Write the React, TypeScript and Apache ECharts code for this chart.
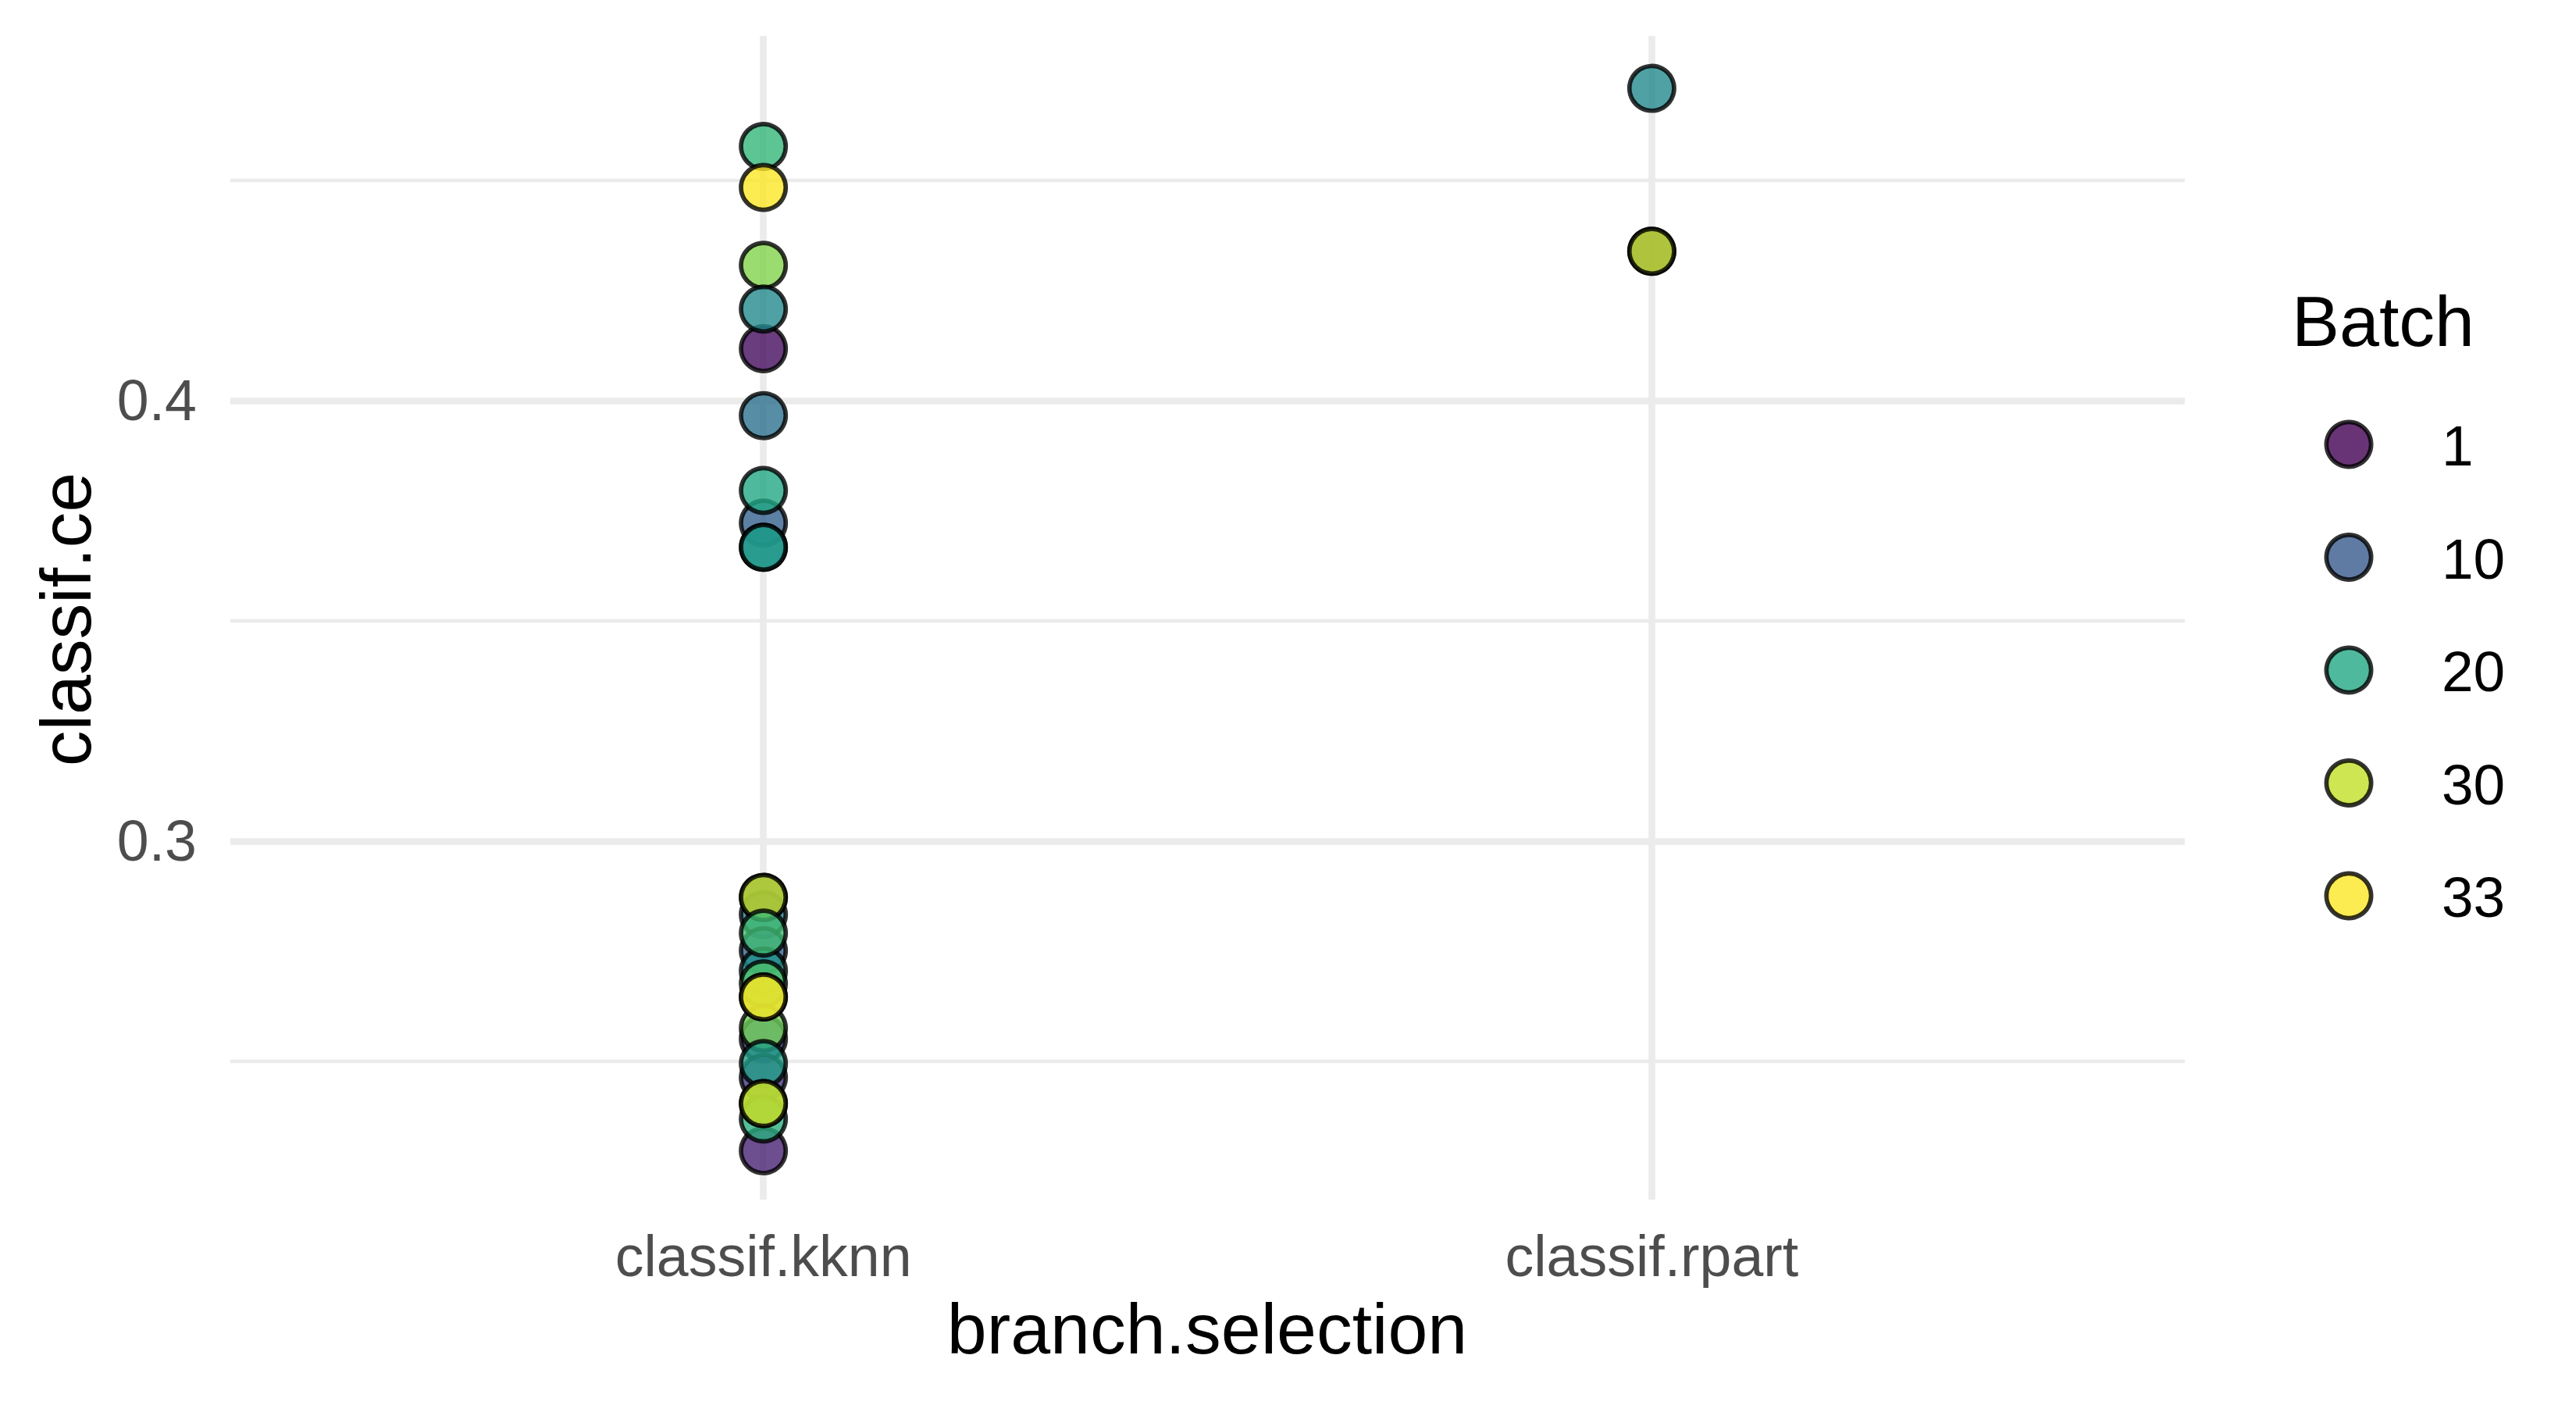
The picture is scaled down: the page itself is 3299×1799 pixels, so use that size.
import React, { useEffect, useRef } from "react";
import * as echarts from "echarts";

// ---- data ----
const categories = ["classif.kknn", "classif.rpart"];
const yMajorTicks = [0.3, 0.4];
const yMinorTicks = [0.25, 0.35, 0.45];
const legendBreaks = [1, 10, 20, 30, 33];
const batchMin = 1;
const batchMax = 33;

// classif.kknn points (drawing order: later on top)
const kknnCe = [
  0.2833, 0.2751, 0.2705, 0.2676, 0.2551, 0.2463, 0.2297, 0.2369, 0.2872, 0.2872,
  0.2791, 0.2575, 0.2646, 0.2646, 0.2495, 0.2404, 0.2404,
  0.4577, 0.4484, 0.4118, 0.4307, 0.4208, 0.3966, 0.3722, 0.3796, 0.3667, 0.3667,
];
const kknnBatch = [
  14, 11, 17, 24, 8, 6, 4, 21, 8, 30,
  23, 26, 25, 33, 19, 20, 31,
  22, 33, 2, 27, 16, 13, 11, 20, 17, 18,
];
// classif.rpart points
const rpartCe = [0.4339, 0.4339, 0.4709];
const rpartBatch = [5, 30, 16];

// viridis colour scale stops
const VIRIDIS = [
  "#440154", "#482475", "#414487", "#355F8D", "#2A788E", "#21918C",
  "#22A884", "#44BF70", "#7AD151", "#BDDF26", "#FDE725",
];

function hexToRgb(h: string) {
  const n = parseInt(h.slice(1), 16);
  return [(n >> 16) & 255, (n >> 8) & 255, n & 255];
}
function viridis(t: number) {
  const tt = Math.max(0, Math.min(1, t)) * (VIRIDIS.length - 1);
  const i = Math.min(Math.floor(tt), VIRIDIS.length - 2);
  const f = tt - i;
  const a = hexToRgb(VIRIDIS[i]);
  const b = hexToRgb(VIRIDIS[i + 1]);
  const c = a.map((v, k) => Math.round(v + (b[k] - v) * f));
  return `rgb(${c[0]},${c[1]},${c[2]})`;
}
function batchColor(b: number) {
  return viridis((b - batchMin) / (batchMax - batchMin));
}

const FONT = "Liberation Sans, Arial, sans-serif";
const POINT_SIZE = 57.3;
const POINT_STROKE = 5.7;
const TITLE_SIZE = 91.5;
const TICK_SIZE = 73.5;
const LEGEND_TEXT_SIZE = 73;

export default function App() {
  const ref = useRef<HTMLDivElement>(null);
  useEffect(() => {
    document.body.style.margin = "0";
    document.body.style.overflow = "hidden";
    if (!ref.current) return;
    const chart = echarts.init(ref.current, null, { renderer: "svg" });

    const data: any[] = [];
    kknnCe.forEach((v, i) =>
      data.push({ value: [0, v, kknnBatch[i]], itemStyle: { color: batchColor(kknnBatch[i]) } })
    );
    rpartCe.forEach((v, i) =>
      data.push({ value: [1, v, rpartBatch[i]], itemStyle: { color: batchColor(rpartBatch[i]) } })
    );

    const legendTop = 569;
    const legendStep = 144.5;
    const graphics: any[] = [
      {
        type: "text",
        x: 84,
        y: 793,
        rotation: Math.PI / 2,
        style: { text: "classif.ce", fontSize: TITLE_SIZE, fill: "#000", align: "center", verticalAlign: "middle", fontFamily: FONT },
      },
      {
        type: "text",
        x: 1546,
        y: 1701,
        style: { text: "branch.selection", fontSize: TITLE_SIZE, fill: "#000", align: "center", verticalAlign: "middle", fontFamily: FONT },
      },
      {
        type: "text",
        x: 2935,
        y: 411,
        style: { text: "Batch", fontSize: TITLE_SIZE, fill: "#000", align: "left", verticalAlign: "middle", fontFamily: FONT },
      },
    ];
    legendBreaks.forEach((b, i) => {
      const cy = legendTop + i * legendStep;
      graphics.push({
        type: "circle",
        shape: { cx: 3008, cy, r: POINT_SIZE / 2 },
        style: { fill: batchColor(b), stroke: "#000", lineWidth: POINT_STROKE, opacity: 0.8 },
      });
      graphics.push({
        type: "text",
        x: 3127,
        y: cy + 1.5,
        style: { text: String(b), fontSize: LEGEND_TEXT_SIZE, fill: "#000", align: "left", verticalAlign: "middle", fontFamily: FONT },
      });
    });

    const yMin = 0.2186;
    const yMax = 0.4828;

    chart.setOption({
      animation: false,
      backgroundColor: "#ffffff",
      grid: { left: 295, right: 501, top: 46, bottom: 263, containLabel: false },
      xAxis: {
        type: "value",
        min: -0.6,
        max: 1.6,
        axisLine: { show: false },
        axisTick: { show: false, customValues: [0, 1] },
        axisLabel: {
          customValues: [0, 1],
          formatter: (v: number) => categories[Math.round(v)],
          fontSize: TICK_SIZE,
          color: "#4D4D4D",
          margin: 35,
          fontFamily: FONT,
        },
        splitLine: { show: true, lineStyle: { color: "#EBEBEB", width: 8.7 } },
      },
      yAxis: [
        {
          type: "value",
          min: yMin,
          max: yMax,
          axisLine: { show: false },
          axisTick: { show: false, customValues: yMajorTicks },
          axisLabel: {
            customValues: yMajorTicks,
            formatter: (v: number) => v.toFixed(1),
            fontSize: TICK_SIZE,
            color: "#4D4D4D",
            margin: 43,
            fontFamily: FONT,
          },
          splitLine: { show: true, lineStyle: { color: "#EBEBEB", width: 8.7 } },
        },
        {
          type: "value",
          min: yMin,
          max: yMax,
          position: "left",
          axisLine: { show: false },
          axisTick: { show: false, customValues: yMinorTicks },
          axisLabel: { show: false, customValues: yMinorTicks },
          splitLine: { show: true, lineStyle: { color: "#EBEBEB", width: 4.35 } },
        },
      ],
      series: [
        {
          type: "scatter",
          yAxisIndex: 0,
          data,
          symbol: "circle",
          symbolSize: POINT_SIZE,
          itemStyle: { borderColor: "#000", borderWidth: POINT_STROKE, opacity: 0.8 },
        },
      ],
      graphic: graphics,
    });
    return () => chart.dispose();
  }, []);
  return <div ref={ref} style={{ width: 3299, height: 1799 }} />;
}
